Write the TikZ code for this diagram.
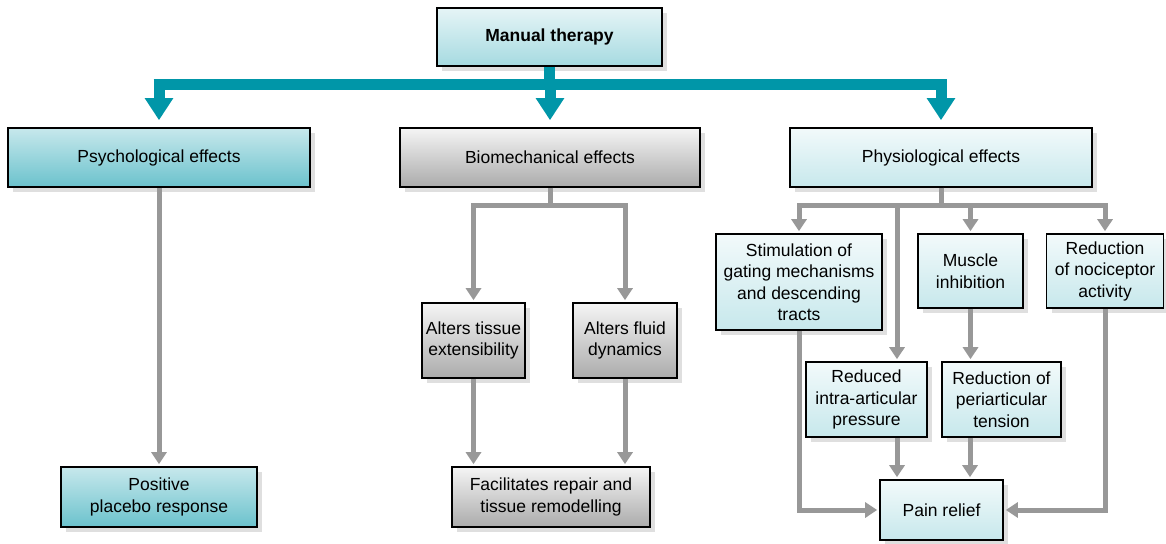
\documentclass[tikz,border=0pt]{standalone}
\usepackage{fontspec}
\setmainfont{Liberation Sans}
\usepackage{xcolor}
\usetikzlibrary{positioning,arrows.meta,shadows}

\definecolor{tealmain}{RGB}{0,150,168}
\definecolor{greyline}{RGB}{152,152,152}

\begin{document}
\begin{tikzpicture}[
    x=1pt, y=-1pt,
    font=\fontsize{17.5}{21.5}\selectfont,
    box/.style={
        rectangle,
        inner sep=2pt,
        align=center,
        draw=black,
        line width=1.6pt,
        drop shadow={opacity=0.25,shadow xshift=5pt,shadow yshift=-5pt}
    },
    tealbox/.style={box,top color=tealmain!22!white,bottom color=tealmain!58!white},
    greybox/.style={box,top color=black!4,bottom color=black!33},
    palebox/.style={box,top color=tealmain!5!white,bottom color=tealmain!22!white},
    topbox/.style={box,top color=tealmain!10!white,bottom color=tealmain!35!white,font=\fontsize{17.5}{21.5}\selectfont\bfseries},
    bigline/.style={draw=tealmain,line width=11pt},
    bigarrow/.style={bigline,-{Triangle[width=27pt,length=22pt]},shorten >=7pt},
    line/.style={draw=greyline,line width=5pt,-{Triangle[width=15pt,length=12pt]},shorten >=2pt}
]
\useasboundingbox (0,0) rectangle (1166,543);

% top
\node[topbox,minimum width=225pt,minimum height=58pt] (mt) at (549.5,37) {Manual therapy};

% three effects
\node[tealbox,minimum width=302pt,minimum height=59pt] (psy) at (159,157.5) {Psychological effects};
\node[greybox,minimum width=300pt,minimum height=59pt] (bio) at (550,157.5) {Biomechanical effects};
\node[palebox,minimum width=302pt,minimum height=59pt] (phy) at (941,157.5) {Physiological effects};

% psychological
\node[tealbox,minimum width=196pt,minimum height=60pt] (plac) at (159,497) {Positive\\placebo response};

% biomechanical
\node[greybox,minimum width=103pt,minimum height=75pt] (ext) at (473.5,340.5) {Alters tissue\\extensibility};
\node[greybox,minimum width=104pt,minimum height=75pt] (flu) at (625,340.5) {Alters fluid\\dynamics};
\node[greybox,minimum width=198pt,minimum height=60pt] (rep) at (551,497) {Facilitates repair and\\tissue remodelling};

% physiological
\node[palebox,minimum width=166pt,minimum height=96pt] (gat) at (799,282) {Stimulation of\\gating mechanisms\\and descending\\tracts};
\node[palebox,minimum width=105pt,minimum height=74pt] (mus) at (970.5,271) {Muscle\\inhibition};
\node[palebox,minimum width=117pt,minimum height=74pt] (noc) at (1105,271) {Reduction\\of nociceptor\\activity};
\node[palebox,minimum width=121pt,minimum height=75pt] (ria) at (866.5,399.5) {Reduced\\intra-articular\\pressure};
\node[palebox,minimum width=119pt,minimum height=75pt] (per) at (1001.5,399.5) {Reduction of\\periarticular\\tension};
\node[palebox,minimum width=123pt,minimum height=60pt] (pain) at (941.5,510) {Pain relief};

% teal connectors
\coordinate (bar) at (0,84.5);
\draw[bigline] (mt.south) -- (mt.south |- bar);
\draw[bigline] ([xshift=-5.5pt]psy.north |- bar) -- ([xshift=5.5pt]phy.north |- bar);
\draw[bigarrow] (psy.north |- bar) -- (psy.north);
\draw[bigarrow] (bio.north |- bar) -- (bio.north);
\draw[bigarrow] (phy.north |- bar) -- (phy.north);

% grey connectors
\draw[line] (psy.south) -- (plac.north);

\draw[line] (bio.south) -- ++(0,18) -| (ext.north);
\draw[line] (bio.south) -- ++(0,18) -| (flu.north);
\draw[line] (ext.south) -- (ext.south |- rep.north);
\draw[line] (flu.south) -- (flu.south |- rep.north);

\draw[line] (phy.south) -- ++(0,18) -| (gat.north);
\draw[line] (phy.south) -- ++(0,18) -| ([xshift=30.5pt]ria.north);
\draw[line] (phy.south) -- ++(0,18) -| (mus.north);
\draw[line] (phy.south) -- ++(0,18) -| (noc.north);
\draw[line] (mus.south) -- (mus.south |- per.north);
\draw[line] ([xshift=30.5pt]ria.south) -- ([xshift=30.5pt]ria.south |- pain.north);
\draw[line] ([xshift=-31.5pt]per.south) -- ([xshift=-31.5pt]per.south |- pain.north);
\draw[line] (gat.south) |- (pain.west);
\draw[line] (noc.south) |- (pain.east);

\end{tikzpicture}
\end{document}
